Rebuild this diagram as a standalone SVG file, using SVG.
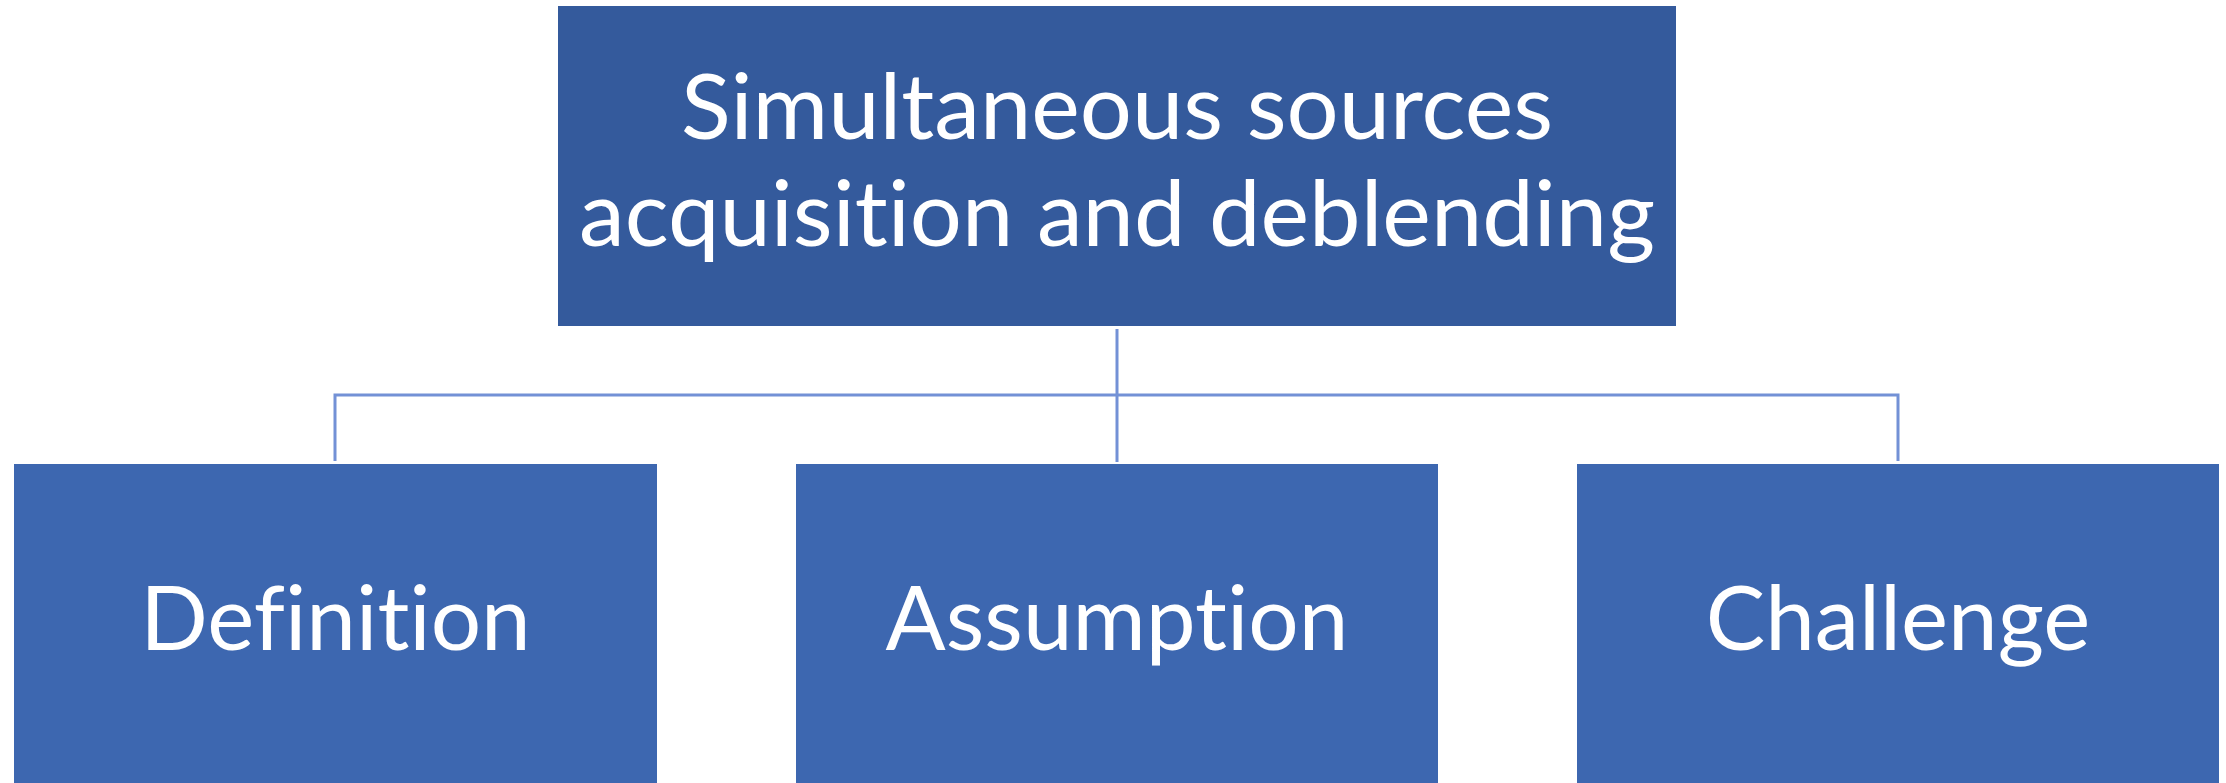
<svg xmlns="http://www.w3.org/2000/svg" width="2226" height="783" viewBox="0 0 2226 783">
  <style>
    .root { fill: #345a9c; }
    .child { fill: #3d67b0; }
    .label { fill: #ffffff; font-family: Lato, "Open Sans", sans-serif; font-size: 89px; text-anchor: middle; font-variant-ligatures: none; }
    .root-label { font-size: 92px; }
    .link { fill: none; stroke: #7391d6; stroke-width: 3; }
  </style>
  <rect width="2226" height="783" fill="#ffffff"/>
  <g id="connectors">
    <path class="link" d="M1117 329 V462"/>
    <path class="link" d="M335 461 V395 H1898 V461"/>
  </g>
  <g id="node-root">
    <rect class="root" x="558" y="6" width="1118" height="320"/>
    <text class="label root-label" x="1117" y="139">Simultaneous sources</text>
    <text class="label root-label" x="1117" y="246">acquisition and deblending</text>
  </g>
  <g id="node-definition">
    <rect class="child" x="14" y="464" width="643" height="319"/>
    <text class="label" x="335.5" y="650">Definition</text>
  </g>
  <g id="node-assumption">
    <rect class="child" x="796" y="464" width="642" height="319"/>
    <text class="label" x="1117" y="650">Assumption</text>
  </g>
  <g id="node-challenge">
    <rect class="child" x="1577" y="464" width="642" height="319"/>
    <text class="label" x="1898" y="650">Challenge</text>
  </g>
</svg>
